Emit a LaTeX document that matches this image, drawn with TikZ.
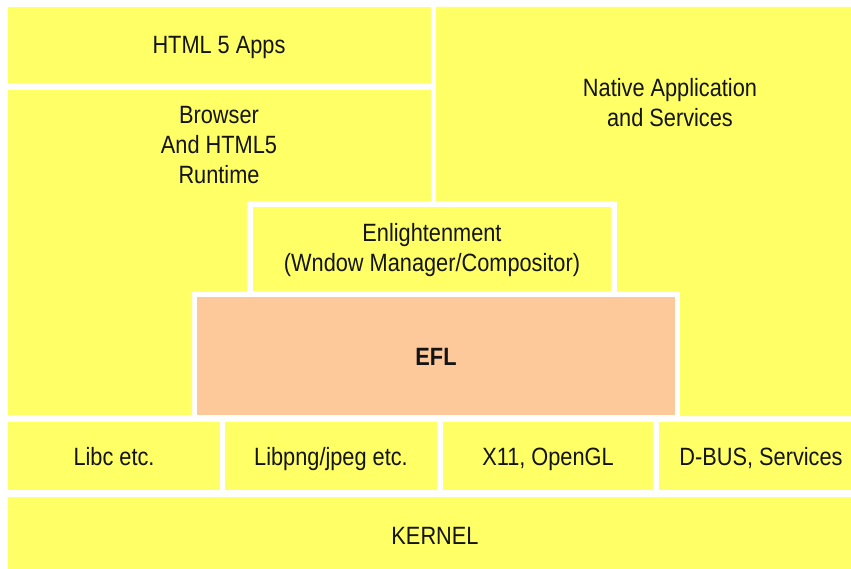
\documentclass[tikz,border=0pt]{standalone}
\usepackage{fontspec}
\setmainfont{Liberation Sans}[FakeStretch=0.87]
\definecolor{ylw}{HTML}{FFFF66}
\definecolor{peach}{HTML}{FDC89A}
\definecolor{txt}{HTML}{141414}
\begin{document}
\begin{tikzpicture}[x=1pt,y=-1pt,
  blk/.style={fill=ylw},
  lbl/.style={text=txt,align=center,inner sep=0pt,font=\fontsize{25}{30}\selectfont},
  one/.style={lbl,anchor=base}]
\useasboundingbox (0,0) rectangle (851,569);
\fill[white] (0,0) rectangle (851,569);
% regions
\fill[blk] (8,7) rectangle (431,83);
\fill[blk] (8,90) -- (431,90) -- (431,201) -- (247,201) -- (247,292) -- (192,292) -- (192,415) -- (8,415) -- cycle;
\fill[blk] (436,7) -- (851,7) -- (851,416) -- (680,416) -- (680,292) -- (617,292) -- (617,201) -- (436,201) -- cycle;
\fill[blk] (253,207) rectangle (611,291);
\fill[peach] (197,297) rectangle (675,415);
\fill[blk] (8,422) rectangle (220,490);
\fill[blk] (225,422) rectangle (437,490);
\fill[blk] (443,422) rectangle (653,490);
\fill[blk] (659,422) rectangle (851,490);
\fill[blk] (8,497) rectangle (851,569);
% labels
\node[one] (html) at (219,54) {HTML 5 Apps};
\node[lbl] (browser) at (219,145) {Browser\\And HTML5\\Runtime};
\node[lbl] (native) at (670,103) {Native Application\\and Services};
\node[lbl] (enl) at (432,250) {Enlightenment\\(Wndow Manager/Compositor)};
\node[one,font=\fontsize{25}{30}\selectfont\bfseries] (efl) at (436,365) {EFL};
\node[one] (libc) at (114,465) {Libc etc.};
\node[one] (libpng) at (331,465) {Libpng/jpeg etc.};
\node[one] (x11) at (548,465) {X11, OpenGL};
\node[one] (dbus) at (761,465) {D-BUS, Services};
\node[one] (kernel) at (435,544) {KERNEL};
\end{tikzpicture}
\end{document}
